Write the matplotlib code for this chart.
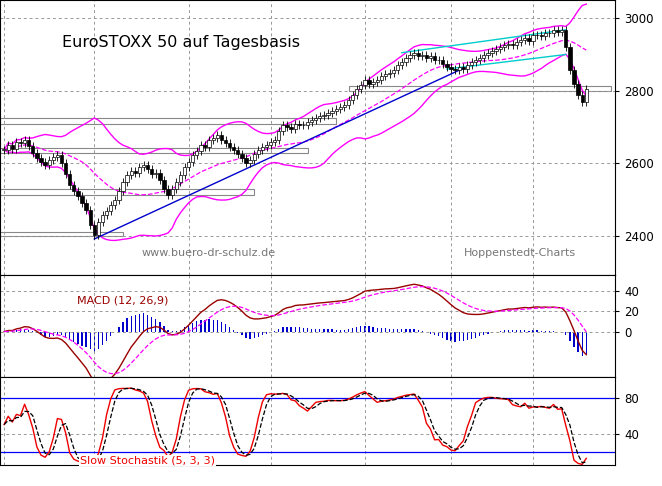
import numpy as np
import matplotlib
matplotlib.use("Agg")
import matplotlib.pyplot as plt
from matplotlib.patches import Rectangle

closes = [2637,2650,2640,2660,2655,2665,2648,2630,2615,2605,2596,2610,2618,2623,2600,2570,2540,
2525,2510,2490,2472,2430,2403,2440,2458,2470,2485,2500,2525,2550,2568,2580,2575,2590,2596,
2585,2570,2575,2555,2530,2513,2530,2550,2568,2590,2605,2623,2635,2650,2645,2665,2670,2679,
2665,2655,2645,2637,2625,2615,2600,2610,2625,2637,2645,2650,2660,2665,2690,2706,
2700,2695,2710,2705,2706,2715,2720,2725,2730,2733,2740,2745,2750,2755,2761,2775,2788,
2805,2815,2830,2820,2825,2830,2840,2845,2850,2857,2870,2880,2890,2898,2905,2895,2898,
2890,2895,2885,2884,2875,2865,2860,2857,2865,2860,2871,2880,2885,2890,2898,
2905,2910,2915,2920,2926,2930,2925,2935,2940,2945,2938,2953,2955,2950,2960,2958,2967,
2962,2967,2920,2857,2820,2788,2770,2805]
month_labels = ["September","October","November","December","2004","February","March"]
month_start = [0,22,45,65,88,109,129]
price_ticks = [2400,2600,2800,3000]
macd_ticks = [0,20,40]
stoch_ticks = [40,80]

c = np.array(closes, float)
n = len(c)
x = np.arange(n)
o = np.r_[c[0], c[:-1]]
hi = np.maximum(o, c) + 11
lo = np.minimum(o, c) - 11

def ema(a, p):
    k = 2/(p+1); r = [a[0]]
    for v in a[1:]: r.append(r[-1]+k*(v-r[-1]))
    return np.array(r)
s = np.array([c[max(0,i-19):i+1].mean() for i in range(n)])
sd = np.array([c[max(0,i-19):i+1].std() for i in range(n)])
macd = ema(c,12)-ema(c,26); sig = ema(macd,9)
hh = np.array([hi[max(0,i-4):i+1].max() for i in range(n)])
ll = np.array([lo[max(0,i-4):i+1].min() for i in range(n)])
fk = 100*(c-ll)/(hh-ll)
def sma(a,p): return np.array([a[max(0,i-p+1):i+1].mean() for i in range(len(a))])
K = sma(fk,3); D = sma(K,3)

fig = plt.figure(figsize=(6.62,4.86), dpi=100)
W = 615/662
ax1 = fig.add_axes([0, 1-275/486, W, 275/486])
ax2 = fig.add_axes([0, 1-377/486, W, 102/486], sharex=ax1)
ax3 = fig.add_axes([0, 1-465/486, W, 88/486], sharex=ax1)
for a in (ax1,ax2,ax3):
    a.yaxis.tick_right()
    a.tick_params(axis='y', labelsize=8.5, length=3, direction='out')
    a.grid(True, color='#999999', ls=(0,(3,3)), lw=0.7)
    for sp in a.spines.values(): sp.set_color('black'); sp.set_linewidth(0.8)
    a.set_xticks(month_start)
    a.tick_params(axis='x', length=0)
    plt.setp(a.get_xticklabels(), visible=False)
plt.setp(ax3.get_xticklabels(), visible=True)
ax3.set_xticklabels(month_labels, fontsize=8.5, ha='left')
ax3.tick_params(axis='x', pad=3)
ax1.set_xlim(-1, 149)

for (y0,y1,x0,x1) in [(2400,2412,0,30),(2512,2530,0,62),(2628,2642,0,75),(2710,2725,0,82),(2800,2812,85,149)]:
    ax1.add_patch(Rectangle((x0-1,y0),x1-x0,y1-y0,fill=False,ec='#888888',lw=0.8))
ax1.plot(x, s+2*sd, color='#ff00ff', lw=1)
ax1.plot(x, s-2*sd, color='#ff00ff', lw=1)
ax1.plot(x, s, color='#ff00ff', lw=0.9, ls='--')
ax1.plot([22,112],[lo[22],2862], color='#0000cc', lw=1)
ax1.plot([97,137],[2905,2968], color='#00cccc', lw=1)
ax1.plot([108,137],[2860,2900], color='#00cccc', lw=1)
for i in range(n):
    ax1.vlines(i, lo[i], hi[i], color='black', lw=0.6)
    b0, b1 = min(o[i],c[i]), max(o[i],c[i])
    ax1.add_patch(Rectangle((i-0.4,b0),0.8,max(b1-b0,1.5),fc='white' if c[i]>=o[i] else 'black',ec='black',lw=0.5,zorder=3))
ax1.set_ylim(2293,3050); ax1.set_yticks(price_ticks)
ax1.text(0.1,0.83,"EuroSTOXX 50 auf Tagesbasis",transform=ax1.transAxes,fontsize=11.5)
ax1.text(0.23,0.07,"www.buero-dr-schulz.de",transform=ax1.transAxes,fontsize=8,color='#777777')
ax1.text(0.755,0.07,"Hoppenstedt-Charts",transform=ax1.transAxes,fontsize=8,color='#777777')

ax2.bar(x, macd-sig, width=0.3, color='#0000cc')
ax2.plot(x, macd, color='#990000', lw=1)
ax2.plot(x, sig, color='#ff00ff', lw=0.9, ls='--')
ax2.set_ylim(-45,56); ax2.set_yticks(macd_ticks)
ax2.text(0.125,0.72,"MACD (12, 26,9)",transform=ax2.transAxes,fontsize=8,color='#990000')

ax3.axhline(80,color='#0000ff',lw=0.9); ax3.axhline(20,color='#0000ff',lw=0.9)
ax3.plot(x, K, color='#ee0000', lw=1)
ax3.plot(x, D, color='black', lw=0.9, ls='--')
ax3.set_ylim(5,103); ax3.set_yticks(stoch_ticks)
ax3.text(0.13,0.02,"Slow Stochastik (5, 3, 3)",transform=ax3.transAxes,fontsize=8,color='#ee0000',
         bbox=dict(fc='white',ec='none',pad=0.5),zorder=5)
fig.savefig("out.png", dpi=100)
